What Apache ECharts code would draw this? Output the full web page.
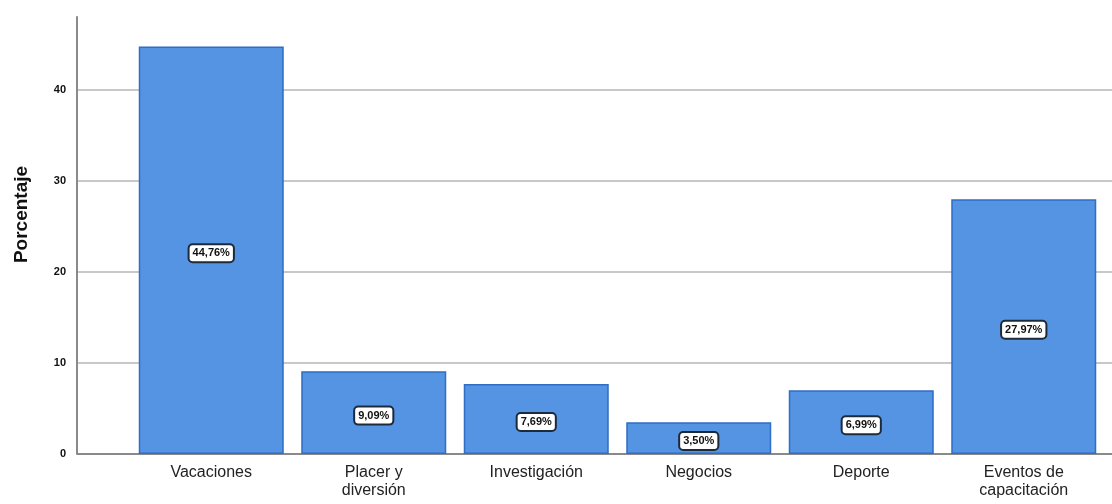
<!DOCTYPE html>
<html>
<head>
<meta charset="utf-8">
<script src="https://cdn.jsdelivr.net/npm/echarts@6/dist/echarts.min.js"></script>
<style>html,body{margin:0;padding:0;background:#fff}#c{width:1112px;height:504px}</style>
</head>
<body>
<div id="c"></div>
<script>
const categories = ['Vacaciones', 'Placer y\ndiversión', 'Investigación', 'Negocios', 'Deporte', 'Eventos de\ncapacitación'];
const values = [44.76, 9.09, 7.69, 3.50, 6.99, 27.97];
const yTicks = [0, 10, 20, 30, 40];
const yName = 'Porcentaje';

const chart = echarts.init(document.getElementById('c'));
const font = 'Liberation Sans, Arial, sans-serif';
chart.setOption({
  animation: false,
  grid: [
    { left: 77, right: 0, top: 17, bottom: 50 },
    { left: 130, right: 7, top: 17, bottom: 50 }
  ],
  xAxis: [
    { gridIndex: 0, type: 'category', data: [], show: false },
    {
      gridIndex: 1, type: 'category', data: categories,
      axisLine: { show: false }, axisTick: { show: false },
      axisLabel: { color: '#222', fontSize: 16, fontFamily: font, lineHeight: 18, margin: 10 }
    }
  ],
  yAxis: [
    {
      gridIndex: 0, type: 'value', min: 0, max: 48, interval: 10,
      name: yName, nameLocation: 'middle', nameGap: 46, nameRotate: 90,
      nameTextStyle: { fontSize: 19, fontWeight: 'bold', color: '#111', fontFamily: font, padding: [0, 0, 0, 42] },
      axisLine: { show: true, lineStyle: { color: '#8a8a8a', width: 2 } },
      axisTick: { show: false },
      axisLabel: {
        showMaxLabel: false, color: '#111', fontSize: 11, fontWeight: 'bold', fontFamily: font, margin: 11,
        formatter: v => yTicks.includes(v) ? String(v) : ''
      },
      splitLine: { show: true, lineStyle: { color: ['#8a8a8a', '#c8c8c8', '#c8c8c8', '#c8c8c8', '#c8c8c8', 'rgba(0,0,0,0)'], width: 2 } }
    },
    { gridIndex: 1, type: 'value', min: 0, max: 48, interval: 10, show: false, splitLine: { show: false } }
  ],
  series: [{
    type: 'bar', xAxisIndex: 1, yAxisIndex: 1,
    data: values, barWidth: 145,
    itemStyle: { color: '#5594e2', borderColor: '#2e6ec4', borderWidth: 1.5 },
    label: {
      show: true, position: 'inside', offset: [0, 3],
      formatter: p => p.value.toFixed(2).replace('.', ',') + '%',
      color: '#111', fontSize: 11, fontWeight: 'bold', fontFamily: font,
      backgroundColor: '#fff', borderColor: '#1c2a3c', borderWidth: 2, borderRadius: 3,
      padding: [3, 3, 2, 3]
    }
  }]
});
</script>
</body>
</html>
